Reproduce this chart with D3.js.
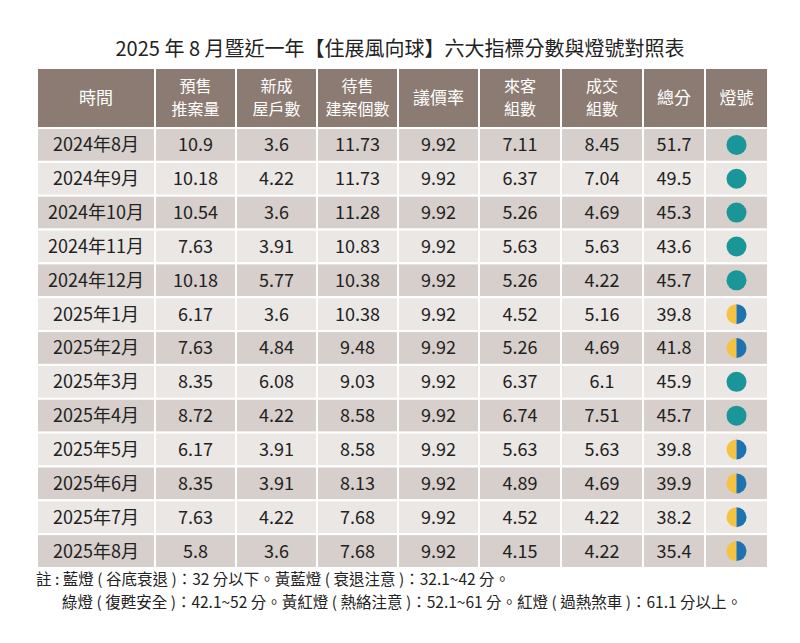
<!DOCTYPE html><html><head><meta charset="utf-8"><script src="https://cdn.jsdelivr.net/npm/d3@7"></script>
<style>body{margin:0;background:#fff}text{font-family:"Noto Sans CJK TC","Noto Sans",sans-serif}</style></head><body>
<svg id="c" width="800" height="643"></svg>
<script>
const headers=[["時間"],["預售","推案量"],["新成","屋戶數"],["待售","建案個數"],["議價率"],["來客","組數"],["成交","組數"],["總分"],["燈號"]];
const months=["2024年8月","2024年9月","2024年10月","2024年11月","2024年12月","2025年1月","2025年2月","2025年3月","2025年4月","2025年5月","2025年6月","2025年7月","2025年8月"];
const presale=["10.9","10.18","10.54","7.63","10.18","6.17","7.63","8.35","8.72","6.17","8.35","7.63","5.8"];
const newHomes=["3.6","4.22","3.6","3.91","5.77","3.6","4.84","6.08","4.22","3.91","3.91","4.22","3.6"];
const unsold=["11.73","11.73","11.28","10.83","10.38","10.38","9.48","9.03","8.58","8.58","8.13","7.68","7.68"];
const bargain=["9.92","9.92","9.92","9.92","9.92","9.92","9.92","9.92","9.92","9.92","9.92","9.92","9.92"];
const visitors=["7.11","6.37","5.26","5.63","5.26","4.52","5.26","6.37","6.74","5.63","4.89","4.52","4.15"];
const deals=["8.45","7.04","4.69","5.63","4.22","5.16","4.69","6.1","7.51","5.63","4.69","4.22","4.22"];
const total=["51.7","49.5","45.3","43.6","45.7","39.8","41.8","45.9","45.7","39.8","39.9","38.2","35.4"];
const lights=["green","green","green","green","green","yb","yb","green","green","yb","yb","yb","yb"];
const cols=[months,presale,newHomes,unsold,bargain,visitors,deals,total];
const edges=[37,155,236,317,398,479,561,643,705,768];
const svg=d3.select("#c");
svg.append("text").attr("x",400).attr("y",56).attr("text-anchor","middle").attr("font-size",20).attr("fill","#222").text("2025 年 8 月暨近一年【住展風向球】六大指標分數與燈號對照表");
const x=d3.scaleOrdinal().domain(d3.range(9)).range(edges.slice(0,9));
const w=i=>edges[i+1]-edges[i];
const y=d3.scaleBand().domain(d3.range(13)).range([128,568]);
const hg=svg.append("g");
headers.forEach((h,i)=>{
 hg.append("rect").attr("x",x(i)).attr("y",68).attr("width",w(i)).attr("height",60).attr("fill","#8c7b72").attr("stroke","#fff").attr("stroke-width",2);
 h.forEach((t,j)=>hg.append("text").attr("x",x(i)+w(i)/2).attr("y",98+(j-(h.length-1)/2)*23).attr("dy","0.35em").attr("text-anchor","middle").attr("font-size",h.length>1?16:17).attr("fill","#fff").text(t));
});
months.forEach((m,r)=>{
 const fill=r%2?"#ebe7e5":"#d6cfcb";
 for(let i=0;i<9;i++){
  svg.append("rect").attr("x",x(i)).attr("y",y(r)).attr("width",w(i)).attr("height",y.bandwidth()).attr("fill",fill).attr("stroke","#fff").attr("stroke-width",2);
  const cy=y(r)+y.bandwidth()/2;
  if(i<8){svg.append("text").attr("x",x(i)+w(i)/2).attr("y",cy).attr("dy","0.36em").attr("text-anchor","middle").attr("font-size",18).attr("fill","#222").text(cols[i][r]);}
  else{
   const cx=x(i)+w(i)/2, rr=10;
   if(lights[r]==="green") svg.append("circle").attr("cx",cx).attr("cy",cy).attr("r",rr).attr("fill","#1a9699");
   else{
    svg.append("path").attr("d",`M${cx},${cy-rr}A${rr},${rr} 0 0 0 ${cx},${cy+rr}Z`).attr("fill","#f5c242");
    svg.append("path").attr("d",`M${cx},${cy-rr}A${rr},${rr} 0 0 1 ${cx},${cy+rr}Z`).attr("fill","#1d72b0");
   }
  }
 }
});
const notes=["註 : 藍燈 ( 谷底衰退 )：32 分以下。黃藍燈 ( 衰退注意 )：32.1~42 分。","綠燈 ( 復甦安全 )：42.1~52 分。黃紅燈 ( 熱絡注意 )：52.1~61 分。紅燈 ( 過熱煞車 )：61.1 分以上。"];
notes.forEach((n,i)=>svg.append("text").attr("x",i?62:36).attr("y",585+i*23).attr("font-size",15.5).attr("fill","#222").text(n));
</script></body></html>
